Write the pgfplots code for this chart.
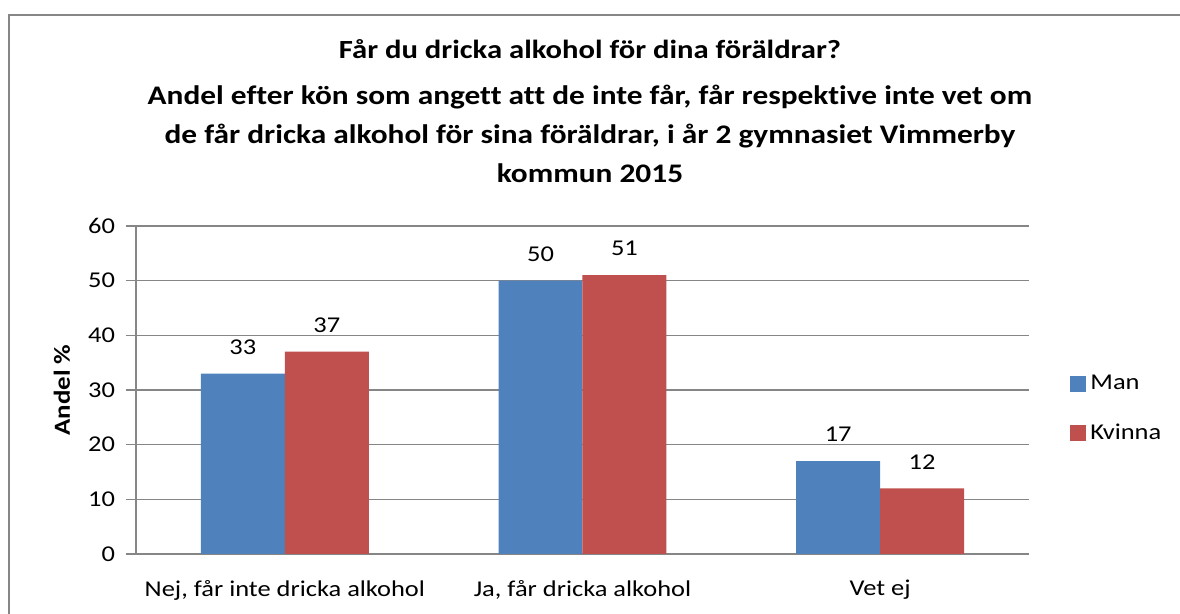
\documentclass[border=0pt]{standalone}
\usepackage{pgfplots}
\pgfplotsset{compat=1.18}
\usepackage{fontspec}
\setmainfont{Carlito}[FakeStretch=1.17, Ligatures={NoCommon}]
\definecolor{manblue}{HTML}{4F81BD}
\definecolor{kvred}{HTML}{C0504D}
\definecolor{gridgray}{HTML}{868686}
\begin{document}
\begin{tikzpicture}
\useasboundingbox (0,0) rectangle (590pt,307pt);
\draw[gridgray, line width=1pt] (4.5pt,0) -- (4.5pt,299.5pt) -- (590pt,299.5pt);
\node[font=\bfseries\fontsize{13.1}{19.7}\selectfont, align=center] at (295pt,282.5pt) {Får du dricka alkohol för dina föräldrar?};
\node[font=\bfseries\fontsize{13.4}{19.6}\selectfont, align=center, anchor=north] at (295pt,268pt) {Andel efter kön som angett att de inte får, får respektive inte vet om\\de får dricka alkohol för sina föräldrar, i år 2 gymnasiet Vimmerby\\kommun 2015};
\begin{axis}[
  at={(68pt,30pt)}, anchor=south west,
  width=446.5pt, height=164pt, scale only axis,
  xmin=-0.5, xmax=2.5, ymin=0, ymax=60,
  ytick={0,10,...,60},
  xtick={0,1,2},
  xticklabels={{Nej, får inte dricka alkohol},{Ja, får dricka alkohol},{Vet ej}},
  major x tick style={draw=none},
  ytick style={gridgray, line width=0.6pt},
  tick align=outside, major tick length=5pt,
  ymajorgrids, grid style={gridgray, line width=0.6pt},
  axis line style={gridgray, line width=0.6pt},
  axis x line*=bottom, axis y line*=left,
  ylabel={\bfseries Andel \%},
  ylabel style={font=\fontsize{11.5}{13}\selectfont, at={(axis description cs:-0.083,0.5)}, anchor=center},
  tick label style={font=\fontsize{11.3}{13}\selectfont},
  /pgf/number format/assume math mode=true,
  yticklabel style={xshift=-2pt},
  xticklabel style={yshift=-4.5pt},
  ybar=0pt, bar width=0.282,
  nodes near coords,
  every node near coord/.append style={font=\fontsize{11.3}{13}\selectfont, yshift=6pt},
  legend style={at={(1,0.5)}, anchor=west, xshift=20.5pt, yshift=-9.5pt, draw=none, fill=none,
    font=\fontsize{11.3}{13}\selectfont, row sep=11.5pt, inner sep=0pt,
    /tikz/every even column/.append style={column sep=4pt}},
  legend image code/.code={\path[#1] (0pt,-4pt) rectangle (8pt,4pt);},
  legend cell align=left,
]
\addplot[fill=manblue, draw=none, bar shift=-0.141] coordinates {(0,33) (1,50) (2,17)};
\addplot[fill=kvred, draw=none, bar shift=0.141] coordinates {(0,37) (1,51) (2,12)};
\legend{Man, Kvinna}
\end{axis}
\end{tikzpicture}
\end{document}
